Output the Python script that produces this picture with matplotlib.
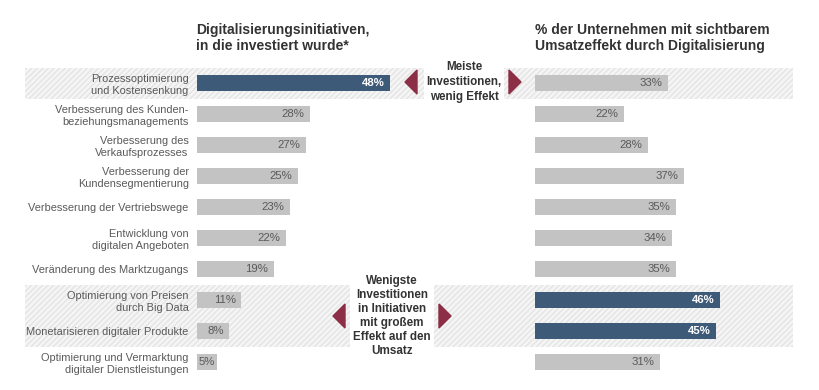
"""
Digitalisierungsinitiativen vs. Umsatzeffekt, two mirrored bar panels.
"""
import matplotlib
matplotlib.use("Agg")
import matplotlib.pyplot as plt
from matplotlib.patches import Rectangle, Polygon

plt.rcParams['font.family'] = ['Liberation Sans', 'DejaVu Sans']

categories = ['Prozessoptimierung\nund Kostensenkung',
              'Verbesserung des Kunden-\nbeziehungsmanagements',
              'Verbesserung des\nVerkaufsprozesses',
              'Verbesserung der\nKundensegmentierung',
              'Verbesserung der Vertriebswege',
              'Entwicklung von\ndigitalen Angeboten',
              'Veränderung des Marktzugangs',
              'Optimierung von Preisen\ndurch Big Data',
              'Monetarisieren digitaler Produkte',
              'Optimierung und Vermarktung\ndigitaler Dienstleistungen']
invest = [48, 28, 27, 25, 23, 22, 19, 11, 8, 5]
effect = [33, 22, 28, 37, 35, 34, 35, 46, 45, 31]
invest_hl = [0]
effect_hl = [7, 8]

title_left = 'Digitalisierungsinitiativen,\nin die investiert wurde*'
title_right = '% der Unternehmen mit sichtbarem\nUmsatzeffekt durch Digitalisierung'
note_top = 'Meiste\nInvestitionen,\nwenig Effekt'
note_bottom = 'Wenigste\nInvestitionen\nin Initiativen\nmit großem\nEffekt auf den\nUmsatz'

GRAY = '#c3c3c3'
BLUE = '#3e5a79'
RED = '#8c2e45'
TXT = '#5a5a5a'

W, H = 820, 390
fig = plt.figure(figsize=(W / 100, H / 100), dpi=100)

# background layer in pixel coordinates (bands, arrows, notes)
bg = fig.add_axes([0, 0, 1, 1])
bg.set_xlim(0, W)
bg.set_ylim(H, 0)
bg.set_axis_off()

row_h = 31
top = 67.5
n = len(categories)


def band(r0, r1):
    y0 = top + r0 * row_h
    bg.add_patch(Rectangle((25, y0), 768, (r1 - r0 + 1) * row_h,
                           facecolor='#f5f5f5', edgecolor='#e4e4e4',
                           hatch='//////', linewidth=0, zorder=0))


band(0, 0)
band(7, 8)


def arrows(xl, xr, yc):
    bg.add_patch(Polygon([[xl, yc], [xl + 12, yc - 12], [xl + 12, yc + 12]],
                         closed=True, color=RED, zorder=3))
    bg.add_patch(Polygon([[xr, yc], [xr - 12, yc - 12], [xr - 12, yc + 12]],
                         closed=True, color=RED, zorder=3))


arrows(405, 521, 82)
bg.text(464, 82, note_top, ha='center', va='center', fontsize=8.4,
        fontweight='bold', color='#333333', linespacing=1.3, zorder=2,
        bbox=dict(facecolor='white', edgecolor='none', pad=2))
arrows(333, 451, 316)
bg.text(392, 316, note_bottom, ha='center', va='center', fontsize=8.4,
        fontweight='bold', color='#333333', linespacing=1.22, zorder=2,
        bbox=dict(facecolor='white', edgecolor='none', pad=2))

px = 4.03
xmax = 50
ax_b = (H - (top + n * row_h)) / H
ax_h = n * row_h / H


def panel(x0, values, hl, labels):
    ax = fig.add_axes([x0 / W, ax_b, xmax * px / W, ax_h])
    ax.patch.set_alpha(0)
    colors = [BLUE if i in hl else GRAY for i in range(n)]
    ax.barh(range(n), values, height=0.52, color=colors)
    ax.set_xlim(0, xmax)
    ax.set_ylim(n - 0.5, -0.5)
    ax.set_xticks([])
    for s in ax.spines.values():
        s.set_visible(False)
    if labels:
        ax.set_yticks(range(n))
        ax.set_yticklabels(labels, fontsize=7.9, color=TXT, ha='right',
                           linespacing=1.2)
        ax.tick_params(axis='y', length=0, pad=6)
    else:
        ax.set_yticks([])
    for i, v in enumerate(values):
        style = dict(color='white', fontweight='bold') if i in hl else dict(color=TXT)
        if v < 8:
            ax.annotate(f'{v}%', (0, i), xytext=(1, 0), textcoords='offset points',
                        ha='left', va='center', fontsize=8.2, **style)
        else:
            ax.annotate(f'{v}%', (v, i), xytext=(-4, 0), textcoords='offset points',
                        ha='right', va='center', fontsize=8.2, **style)
    return ax


panel(197, invest, invest_hl, categories)
panel(535, effect, effect_hl, None)

fig.text(196 / W, 1 - 23 / H, title_left, ha='left', va='top', fontsize=10,
         fontweight='bold', color='#333333', linespacing=1.15)
fig.text(535 / W, 1 - 23 / H, title_right, ha='left', va='top', fontsize=10,
         fontweight='bold', color='#333333', linespacing=1.15)

fig.savefig('out.png', dpi=100)
